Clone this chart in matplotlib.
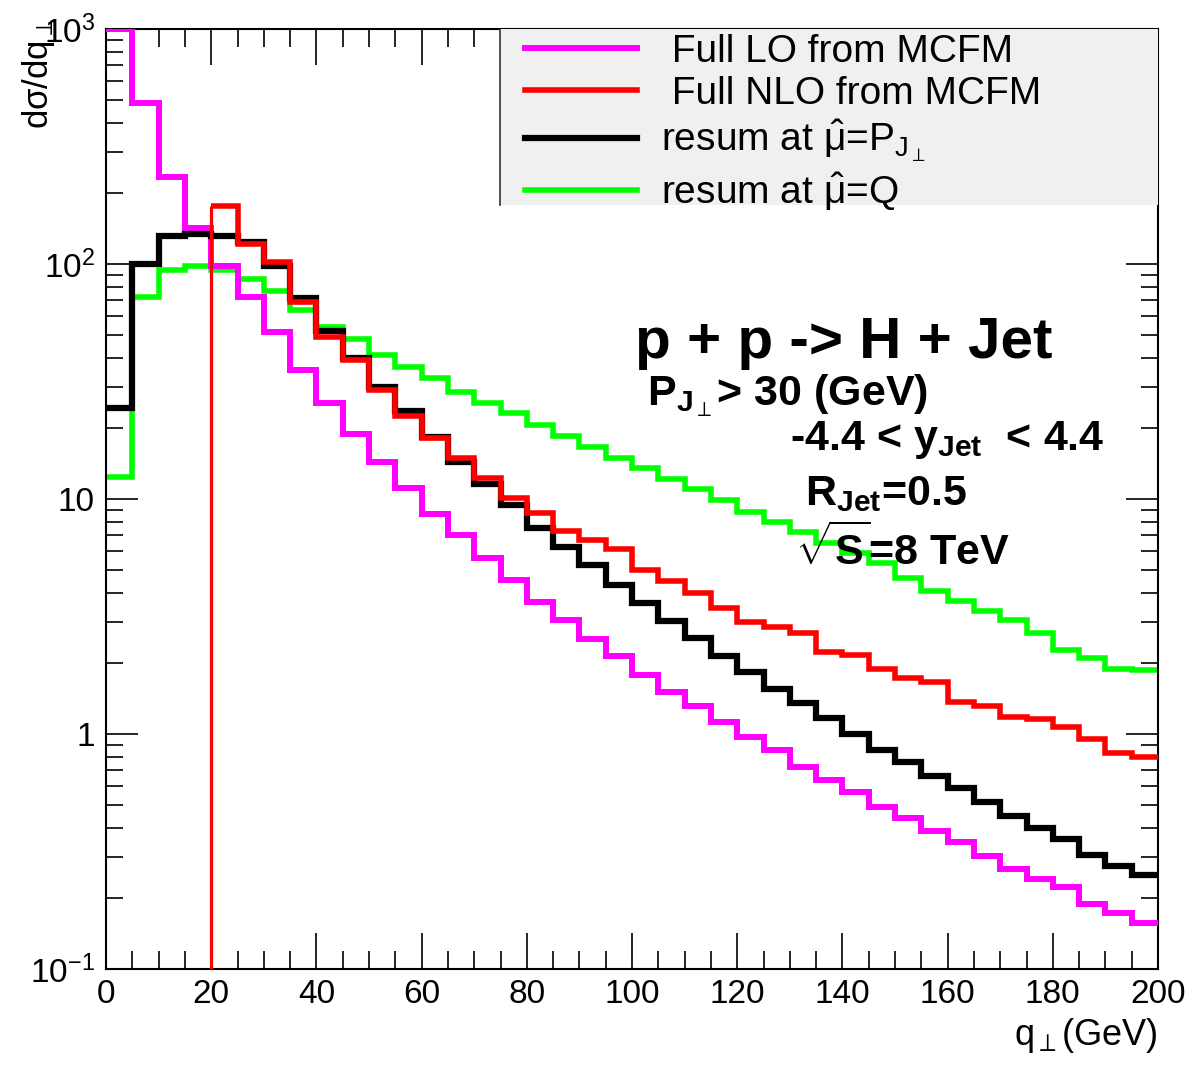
import numpy as np
import matplotlib.pyplot as plt
from matplotlib.patches import Rectangle
from matplotlib.ticker import FixedLocator, FixedFormatter, MultipleLocator, LogLocator, NullFormatter

plt.rcParams['font.family'] = ['Liberation Sans', 'DejaVu Sans']
plt.rcParams['mathtext.fontset'] = 'custom'
plt.rcParams['mathtext.rm'] = 'Liberation Sans'
plt.rcParams['mathtext.bf'] = 'Liberation Sans:bold'
plt.rcParams['mathtext.it'] = 'Liberation Sans:italic'
plt.rcParams['mathtext.default'] = 'regular'

# q_perp bins, 5 GeV wide
bin_edges = np.arange(0, 205, 5)

full_lo = [1000, 486, 235, 142, 98, 72.6, 51.5, 35.4, 25.7, 19.0,
           14.4, 11.1, 8.6, 7.0, 5.6, 4.52, 3.66, 3.06, 2.55, 2.15,
           1.78, 1.51, 1.31, 1.13, 0.975, 0.855, 0.726, 0.637, 0.568, 0.491,
           0.438, 0.387, 0.348, 0.303, 0.266, 0.241, 0.224, 0.189, 0.174, 0.157]

full_nlo = [0, 0, 0, 0, 177, 122, 102, 69, 49, 39,
            29, 22.6, 18.2, 15.0, 12.3, 10.1, 8.7, 7.3, 6.7, 6.1,
            5.0, 4.5, 4.0, 3.45, 3.0, 2.86, 2.7, 2.24, 2.18, 1.90,
            1.73, 1.66, 1.37, 1.31, 1.18, 1.16, 1.07, 0.95, 0.83, 0.80]

resum_pj = [24.5, 100, 131, 134, 131, 124, 98, 72, 52, 40,
            30, 23.8, 18.4, 14.4, 11.6, 9.4, 7.5, 6.27, 5.24, 4.3,
            3.6, 3.03, 2.57, 2.14, 1.83, 1.56, 1.35, 1.17, 1.0, 0.855,
            0.76, 0.66, 0.59, 0.515, 0.448, 0.397, 0.356, 0.305, 0.275, 0.251]

resum_q = [12.4, 72.6, 94, 98, 94, 86, 77, 64, 54, 48,
           41, 36.6, 32.8, 28.6, 25.7, 23.2, 20.6, 18.6, 16.7, 15.0,
           13.6, 12.2, 11.0, 9.9, 8.8, 8.0, 7.26, 6.5, 5.87, 5.32,
           4.6, 4.05, 3.68, 3.33, 3.06, 2.68, 2.28, 2.10, 1.90, 1.88]

ytick_vals = [0.1, 1, 10, 100, 1000]
ytick_labels = ['$10^{-1}$', '1', '10', '$10^{2}$', '$10^{3}$']

fig = plt.figure(figsize=(11.91, 10.67), dpi=100)
ax = fig.add_axes([0.0890, 0.0918, 0.8833, 0.8810])

ax.set_yscale('log')
ax.set_xlim(0, 200)
ax.set_ylim(0.1, 1000)

h_q = ax.stairs(resum_q, bin_edges, color='#00ff00', lw=4, baseline=None, zorder=2)
h_lo = ax.stairs(full_lo, bin_edges, color='#ff00ff', lw=4.3, baseline=None, zorder=3)
h_pj = ax.stairs(resum_pj, bin_edges, color='black', lw=4.5, baseline=None, zorder=4)

nlo = np.array(full_nlo)
first = int(np.argmax(nlo > 0))
h_nlo = ax.stairs(nlo[first:], bin_edges[first:], color='#ff0000', lw=4, baseline=None, zorder=5)
ax.vlines(bin_edges[first], 0.1, nlo[first], color='#ff0000', lw=2.3, zorder=5)

# axes / ticks in ROOT style
ax.xaxis.set_major_locator(MultipleLocator(20))
ax.xaxis.set_minor_locator(MultipleLocator(5))
ax.yaxis.set_major_locator(FixedLocator(ytick_vals))
ax.yaxis.set_major_formatter(FixedFormatter(ytick_labels))
ax.yaxis.set_minor_locator(LogLocator(base=10, subs=np.arange(2, 10)))
ax.yaxis.set_minor_formatter(NullFormatter())
ax.tick_params(which='both', direction='in', top=True, right=True, width=1.2, labelsize=24)
ax.xaxis.set_tick_params(which='major', length=26, pad=7)
ax.xaxis.set_tick_params(which='minor', length=13)
ax.yaxis.set_tick_params(which='major', length=23, pad=8)
ax.yaxis.set_tick_params(which='minor', length=12)
for s in ax.spines.values():
    s.set_linewidth(1.5)

ax.set_ylabel(r'd$\sigma$/dq$_{\perp}$', fontsize=25, loc='top')
ax.yaxis.set_label_coords(-0.047, 1.012)
ax.set_xlabel(r'q$_{\perp}$(GeV)', fontsize=26, loc='right')
ax.xaxis.set_label_coords(1.0, -0.050)

# legend box
ax.add_patch(Rectangle((0.3745, 0.8128), 0.6255, 0.1872, transform=ax.transAxes,
                       facecolor='#f0f0f0', edgecolor='none', zorder=6))
ax.plot([0.3745, 0.3745], [0.8128, 1.0], transform=ax.transAxes, color='#333333', lw=1.2, zorder=7)

handles = [h_lo, h_nlo, h_pj, h_q]
labels = [' Full LO from MCFM', ' Full NLO from MCFM',
          r'resum at $\hat{\mu}$=P$_{J_{\perp}}$', r'resum at $\hat{\mu}$=Q']
leg = ax.legend(handles, labels, loc='upper left', bbox_to_anchor=(0.398, 0.995),
                frameon=False, fontsize=28, handlelength=2.9, handletextpad=0.6,
                labelspacing=0.16, borderpad=0, borderaxespad=0)
leg.set_zorder(10)

txt = dict(transform=ax.transAxes, ha='left', va='baseline', fontweight='bold', zorder=8)
ax.text(0.503, 0.650, 'p + p -> H + Jet', fontsize=42, **txt)
ax.text(0.514, 0.600, r'P$_{\mathbf{J}_{\perp}}$> 30 (GeV)', fontsize=31, **txt)
ax.text(0.650, 0.552, r'-4.4 < y$_{\mathbf{Jet}}$  < 4.4', fontsize=31, **txt)
ax.text(0.664, 0.494, r'R$_{\mathbf{Jet}}$=0.5', fontsize=31, **txt)
ax.text(0.655, 0.430, r'$\sqrt{\mathbf{S}}$=8 TeV', fontsize=31, **txt)

fig.savefig('out.png', dpi=100)
